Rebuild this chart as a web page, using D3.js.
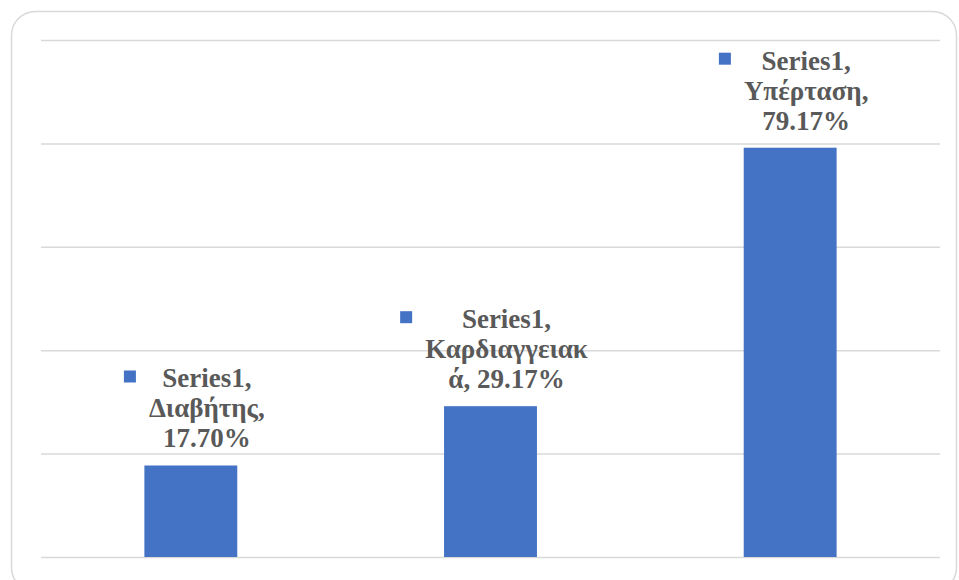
<!DOCTYPE html>
<html>
<head>
<meta charset="utf-8">
<script src="https://cdn.jsdelivr.net/npm/d3@7"></script>
<style>
  body { margin: 0; background: #fff; }
  svg { display: block; }
</style>
</head>
<body>
<svg id="chart" width="959" height="580"></svg>
<script>
const seriesName = 'Series1';
const categories = ['Διαβήτης', 'Καρδιαγγειακά', 'Υπέρταση'];
const values = [0.177, 0.2917, 0.7917];
const valueLabels = ['17.70%', '29.17%', '79.17%'];
// data label lines as they wrap in the picture
const labelLines = [
    ['Series1,', 'Διαβήτης,', '17.70%'],
    ['Series1,', 'Καρδιαγγειακ', 'ά, 29.17%'],
    ['Series1,', 'Υπέρταση,', '79.17%']
];
const yTicks = [0, 0.2, 0.4, 0.6, 0.8, 1];

const svg = d3.select('#chart');
const margin = { top: 40, right: 19, bottom: 23, left: 41 };
const width = 959, height = 580;

// chart frame
svg.append('rect')
    .attr('x', 11.5).attr('y', 11.5)
    .attr('width', 945).attr('height', 580)
    .attr('rx', 24)
    .attr('fill', '#fff')
    .attr('stroke', '#d9d9d9')
    .attr('stroke-width', 1.5);

const x = d3.scaleBand()
    .domain(categories)
    .range([margin.left, width - margin.right])
    .paddingInner(0.69)
    .paddingOuter(0.345);

const y = d3.scaleLinear()
    .domain([0, 1])
    .range([height - margin.bottom, margin.top]);

// gridlines
const grid = svg.append('g')
    .attr('transform', `translate(${margin.left},0)`)
    .call(d3.axisLeft(y)
        .tickValues(yTicks)
        .tickSize(-(width - margin.left - margin.right))
        .tickFormat(''));
grid.select('.domain').remove();
grid.selectAll('.tick line')
    .attr('stroke', '#d9d9d9')
    .attr('stroke-width', 1.5);

const data = categories.map((c, i) => ({ cat: c, value: values[i], lines: labelLines[i] }));

svg.append('g')
    .selectAll('rect')
    .data(data)
    .join('rect')
    .attr('x', d => x(d.cat))
    .attr('y', d => y(d.value))
    .attr('width', x.bandwidth())
    .attr('height', d => y(0) - y(d.value))
    .attr('fill', '#4472c4');

// data labels with legend key
const lineH = 30;
const labels = svg.append('g')
    .selectAll('g')
    .data(data)
    .join('g');

labels.each(function(d) {
    const g = d3.select(this);
    const cx = x(d.cat) + x.bandwidth() / 2 + 16;
    const lastBase = y(d.value) - 18;
    const firstBase = lastBase - lineH * (d.lines.length - 1);
    const text = g.append('text')
        .attr('text-anchor', 'middle')
        .attr('font-family', '"Liberation Serif", "Times New Roman", serif')
        .attr('font-weight', 'bold')
        .attr('font-size', 27)
        .attr('fill', '#595959');
    d.lines.forEach((l, i) => {
        text.append('tspan')
            .attr('x', cx)
            .attr('y', firstBase + i * lineH)
            .text(l);
    });
    const bb = text.node().getBBox();
    g.append('rect')
        .attr('x', bb.x - 25)
        .attr('y', firstBase - 17)
        .attr('width', 12)
        .attr('height', 12)
        .attr('fill', '#4472c4');
});
</script>
</body>
</html>
